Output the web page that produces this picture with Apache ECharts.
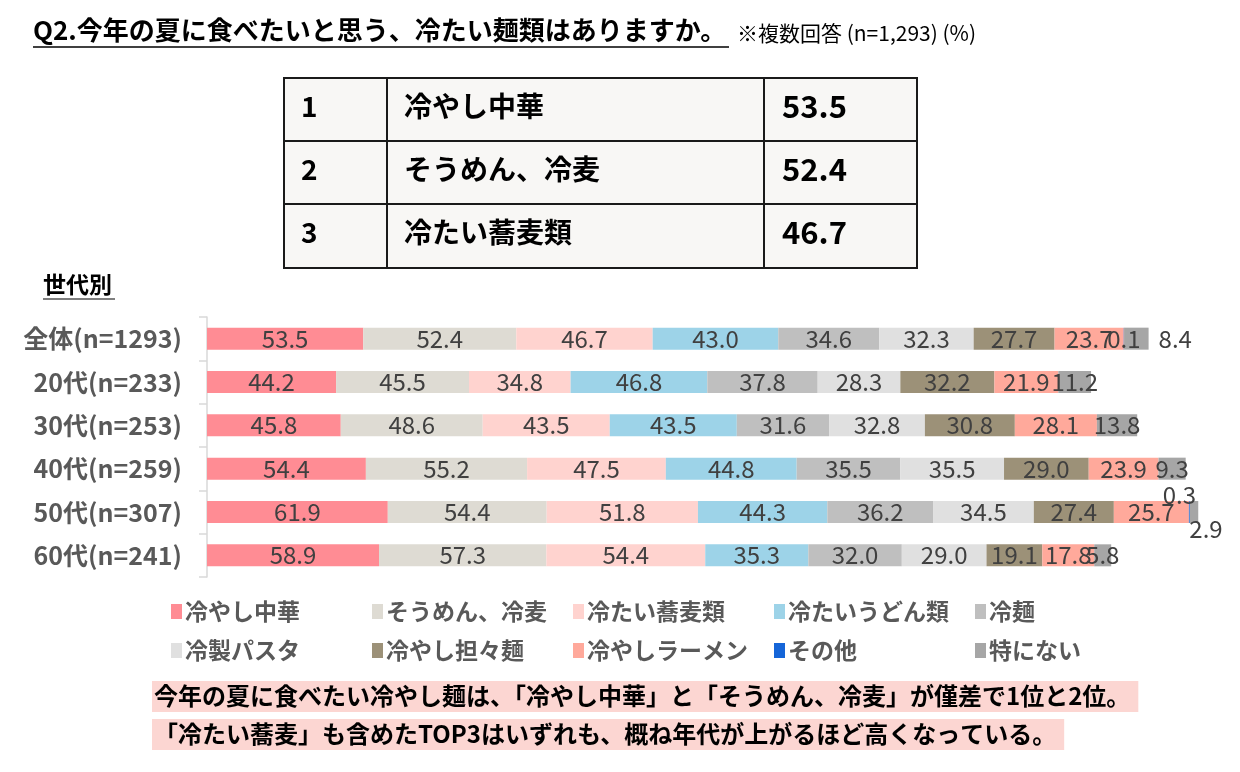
<!DOCTYPE html>
<html>
<head>
<meta charset="utf-8">
<script src="https://cdn.jsdelivr.net/npm/echarts@6/dist/echarts.min.js"></script>
<style>
html, body { margin: 0; padding: 0; background: #fff; }
#main { width: 1240px; height: 772px; }
</style>
</head>
<body>
<div id="main"></div>
<script>
// 世代別データ (%)
var ages = ['全体(n=1293)', '20代(n=233)', '30代(n=253)', '40代(n=259)', '50代(n=307)', '60代(n=241)'];
var hiyashiChuka = [53.5, 44.2, 45.8, 54.4, 61.9, 58.9];
var somen = [52.4, 45.5, 48.6, 55.2, 54.4, 57.3];
var soba = [46.7, 34.8, 43.5, 47.5, 51.8, 54.4];
var udon = [43.0, 46.8, 43.5, 44.8, 44.3, 35.3];
var reimen = [34.6, 37.8, 31.6, 35.5, 36.2, 32.0];
var pasta = [32.3, 28.3, 32.8, 35.5, 34.5, 29.0];
var tantan = [27.7, 32.2, 30.8, 29.0, 27.4, 19.1];
var ramen = [23.7, 21.9, 28.1, 23.9, 25.7, 17.8];
var sonota = [0.1, 0, 0, 0, 0.3, 0];
var tokuni = [8.4, 11.2, 13.8, 9.3, 2.9, 5.8];

var seriesNames = ['冷やし中華', 'そうめん、冷麦', '冷たい蕎麦類', '冷たいうどん類', '冷麺',
  '冷製パスタ', '冷やし担々麺', '冷やしラーメン', 'その他', '特にない'];
var seriesData = [hiyashiChuka, somen, soba, udon, reimen, pasta, tantan, ramen, sonota, tokuni];
var colors = ['#FF8C94', '#DEDBD3', '#FFD3CF', '#9DD3E8', '#BFBFBF',
  '#E0E0E0', '#9C9178', '#FFA99B', '#1565D8', '#A6A6A6'];

// TOP3 表
var rankNo = ['1', '2', '3'];
var rankName = ['冷やし中華', 'そうめん、冷麦', '冷たい蕎麦類'];
var rankValue = ['53.5', '52.4', '46.7'];

var FONT = '"Noto Sans CJK JP", sans-serif';

var myChart = echarts.init(document.getElementById('main'));

// ラベルの個別位置 (重なる箇所)
var labelOverride = {
  'その他': {
    4: { position: 'top', distance: -6, offset: [-10, 0] }
  },
  '特にない': {
    0: { position: 'right', distance: 10 },
    4: { position: 'bottom', distance: -6, offset: [12, 0] }
  }
};

var series = seriesNames.map(function (name, i) {
  return {
    name: name,
    type: 'bar',
    stack: 'all',
    barWidth: 22,
    itemStyle: { color: colors[i] },
    label: {
      show: true,
      color: '#404040',
      fontSize: 24,
      fontFamily: FONT,
      formatter: function (p) {
        return p.value ? p.value.toFixed(1) : '';
      }
    },
    data: seriesData[i].map(function (v, j) {
      var item = { value: v };
      if (labelOverride[name] && labelOverride[name][j]) {
        item.label = labelOverride[name][j];
      }
      return item;
    })
  };
});

// 凡例: 5列×2行
var legends = seriesNames.map(function (name, i) {
  return {
    data: [name],
    left: 166 + (i % 5) * 201,
    top: 595 + Math.floor(i / 5) * 39,
    icon: 'rect',
    itemWidth: 11,
    itemHeight: 15,
    itemGap: 0,
    selectedMode: false,
    textStyle: { color: '#595959', fontSize: 23, fontWeight: 'bold', fontFamily: FONT, padding: [0, 0, 0, -2] }
  };
});

var graphics = [];
// タイトル
graphics.push({
  type: 'text', left: 33, top: 17,
  style: { text: 'Q2.今年の夏に食べたいと思う、冷たい麺類はありますか。', fill: '#000', font: 'bold 26px ' + FONT }
});
graphics.push({
  type: 'line', shape: { x1: 33, y1: 47, x2: 729, y2: 47 }, style: { stroke: '#000', lineWidth: 1.5 }
});
graphics.push({
  type: 'text', left: 737, top: 23,
  style: { text: '※複数回答 (n=1,293) (%)', fill: '#000', font: '21px ' + FONT }
});

// 表
var tx = [284, 387, 764, 917];
var ty = [78, 141, 204, 268];
graphics.push({
  type: 'rect', shape: { x: tx[0], y: ty[0], width: tx[3] - tx[0], height: ty[3] - ty[0] },
  style: { fill: '#F8F7F5', stroke: '#1a1a1a', lineWidth: 2 }
});
for (var r = 1; r < 3; r++) {
  graphics.push({ type: 'line', shape: { x1: tx[0], y1: ty[r], x2: tx[3], y2: ty[r] }, style: { stroke: '#1a1a1a', lineWidth: 2 } });
}
for (var c = 1; c < 3; c++) {
  graphics.push({ type: 'line', shape: { x1: tx[c], y1: ty[0], x2: tx[c], y2: ty[3] }, style: { stroke: '#1a1a1a', lineWidth: 2 } });
}
for (var k = 0; k < 3; k++) {
  var cy = ty[k] + 28;
  graphics.push({ type: 'text', x: 301, y: cy, style: { text: rankNo[k], fill: '#000', font: 'bold 28px ' + FONT, verticalAlign: 'middle' } });
  graphics.push({ type: 'text', x: 404, y: cy, style: { text: rankName[k], fill: '#000', font: 'bold 28px ' + FONT, verticalAlign: 'middle' } });
  graphics.push({ type: 'text', x: 782, y: cy, style: { text: rankValue[k], fill: '#000', font: 'bold 31px ' + FONT, verticalAlign: 'middle' } });
}

// 世代別
graphics.push({
  type: 'text', left: 43, top: 273,
  style: { text: '世代別', fill: '#000', font: 'bold 23px ' + FONT }
});
graphics.push({
  type: 'line', shape: { x1: 43, y1: 299, x2: 115, y2: 299 }, style: { stroke: '#000', lineWidth: 1.2 }
});

// まとめ
graphics.push({
  type: 'text', left: 152, top: 681,
  style: {
    text: '今年の夏に食べたい冷やし麺は、「冷やし中華」と「そうめん、冷麦」が僅差で1位と2位。',
    fill: '#000', font: 'bold 24px ' + FONT, backgroundColor: '#FCD6D2', padding: [3, 8, 4, 2]
  }
});
graphics.push({
  type: 'text', left: 152, top: 719,
  style: {
    text: '「冷たい蕎麦」も含めたTOP3はいずれも、概ね年代が上がるほど高くなっている。',
    fill: '#000', font: 'bold 24px ' + FONT, backgroundColor: '#FCD6D2', padding: [3, 8, 4, 2]
  }
});

var option = {
  animation: false,
  backgroundColor: '#fff',
  grid: { left: 207, right: 40, top: 317, height: 260 },
  legend: legends,
  xAxis: {
    type: 'value',
    min: 0,
    max: 340,
    show: false
  },
  yAxis: {
    type: 'category',
    data: ages,
    inverse: true,
    axisLine: { show: true, lineStyle: { color: '#D9D9D9', width: 1.5 } },
    axisTick: { show: true, length: 8, lineStyle: { color: '#D9D9D9', width: 1.5 } },
    axisLabel: { color: '#595959', fontSize: 25, fontWeight: 'bold', fontFamily: FONT, margin: 25 }
  },
  series: series,
  graphic: graphics
};

myChart.setOption(option);
</script>
</body>
</html>
